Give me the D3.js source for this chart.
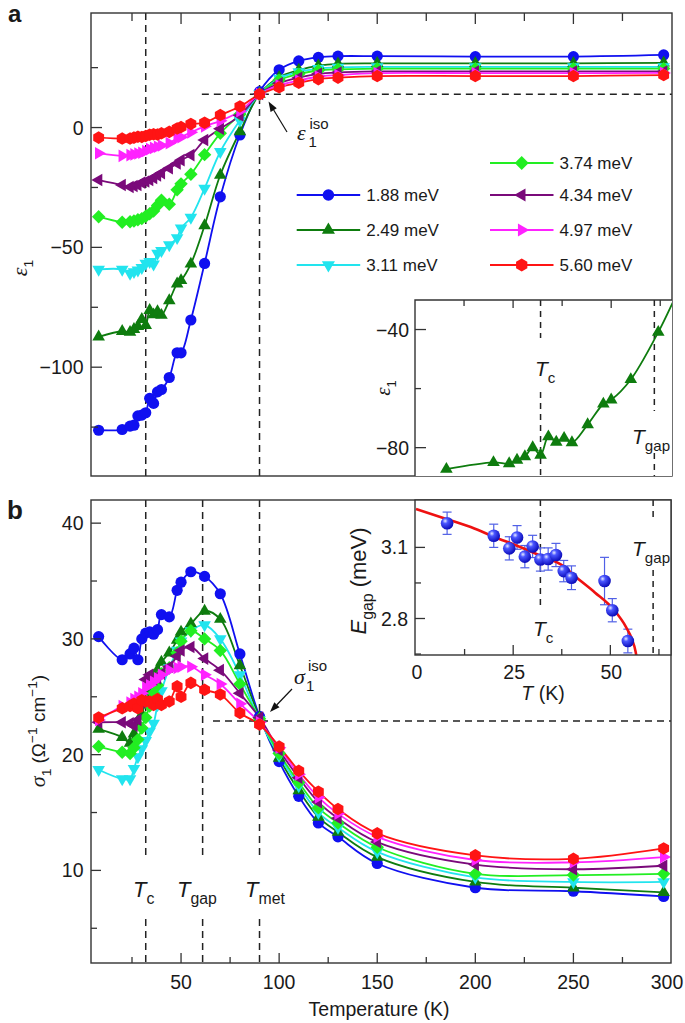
<!DOCTYPE html>
<html><head><meta charset="utf-8">
<script src="https://cdn.jsdelivr.net/npm/d3@7"></script>
<style>
body{margin:0;background:#fff}
svg{display:block}
text{font-family:"Liberation Sans",Arial,sans-serif;fill:#1a1a1a}
</style>
</head><body>
<svg id="c" width="685" height="1023"></svg>
<script>
// ---------------- DATA ----------------
const temps = [8,20,24,26,28,30,32,34,36,38,40,44,48,50,55,62,70,80,90,100,110,120,130,150,200,250,296];
const seriesNames = ["1.88 meV","2.49 meV","3.11 meV","3.74 meV","4.34 meV","4.97 meV","5.60 meV"];
const seriesColors = ["#1010f0","#0e7c0e","#22e4ee","#22ee22","#7a0a7a","#ff22ff","#ff1414"];
const seriesShapes = ["circle","triUp","triDown","diamond","triLeft","triRight","hexagon"];

// panel a: epsilon_1
const eps188 = [-126.3,-126,-124.6,-124.2,-120.3,-120,-119,-113,-115.1,-110.3,-109.3,-104.3,-94,-94,-80.3,-56.7,-28.9,-3.1,15,24.1,27.8,29.3,29.8,29.8,29.6,29.6,30.3];
const eps249 = [-87.3,-85,-85.4,-84.2,-83,-80,-82.5,-76.3,-78.1,-76.8,-78.3,-72.2,-65.2,-63.8,-56.9,-40.9,-19.8,-1.7,14,21,24,25.8,26.6,26.8,26.8,26.8,27];
const eps311 = [-59.2,-59.2,-60.9,-60.2,-59.5,-58.5,-56.7,-56,-57,-52.5,-51.4,-49,-46,-42,-37.5,-25.4,-10.1,3,14,20.5,23.2,24.6,25.1,25.3,25.3,25.3,25.3];
const eps374 = [-37.2,-39.5,-39.3,-39,-38.5,-38,-37,-36,-34.8,-32.5,-30.3,-32,-26,-23.5,-19.5,-11.3,-2.4,5.5,14,19.8,22.3,23.8,24.3,24.6,24.6,24.6,24.6];
const eps434 = [-21.9,-24,-24.8,-24.4,-24,-23,-22.5,-21.9,-21,-20,-19,-17,-15,-13.6,-11.5,-5.2,-0.5,5,14,18.5,20.8,22.4,23,23.4,23.4,23.4,23.4];
const eps497 = [-10.7,-11.8,-11.5,-11.2,-10.8,-10.5,-9.8,-9,-8.5,-8,-7.5,-6.5,-4.5,-4,-2,0.5,2.8,6.8,14,17.6,19.6,21.3,21.9,22.7,22.7,22.7,22.8];
const eps560 = [-4.2,-4.6,-4.6,-4.2,-3.8,-3.9,-3.5,-3,-2.8,-2.9,-2.4,-1.8,-0.4,0.2,1.5,2,5.2,8.8,13.9,16.8,18.7,20.2,20.8,21.5,21.5,21.5,21.9];

// panel b: sigma_1
const sig188 = [30.2,28.2,28.7,29.2,28.2,30.0,30.5,30.6,30.4,30.8,32.1,31.9,34.2,34.9,35.8,35.4,33.9,28.7,23.3,19.4,16.4,14.1,12.9,10.6,8.5,8.2,7.75];
const sig249 = [22.2,21.5,21.0,21.8,22.5,23.5,24.5,25.5,26.8,27.3,28.0,28.8,29.9,30.6,31.3,32.4,31.7,27.7,23.2,19.7,16.9,14.6,13.3,11.15,9.0,8.5,8.1];
const sig311 = [18.7,17.9,17.9,18.8,19.8,20.5,21.2,22.0,22.7,24.3,25.5,27.5,29.0,29.8,30.7,31.2,30.0,26.9,23.0,19.9,17.3,15.0,13.7,11.6,9.4,9.0,9.0];
const sig374 = [20.7,20.2,20.1,20.6,21.3,22.3,23.2,24.2,25.3,26.0,27.0,27.5,28.8,29.8,30.7,30.0,29.0,26.1,23.1,20.1,17.6,15.4,14.1,12.0,9.7,9.6,9.7];
const sig434 = [22.8,22.8,22.7,22.5,23.0,24.5,26.5,26.9,26.5,26.6,27.0,27.6,28.5,29.0,29.3,28.3,27.3,25.3,23.2,20.4,18.0,15.9,14.5,12.45,10.5,10.1,10.4];
const sig497 = [23.0,24.2,24.5,24.8,25.0,25.3,25.8,26.0,26.3,26.6,26.9,27.3,27.5,27.6,27.6,26.9,26.1,24.4,22.8,20.6,18.3,16.3,14.9,12.9,10.9,10.7,11.15];
const sig560 = [23.2,24.0,24.2,24.4,24.0,24.7,24.6,24.6,24.3,24.8,24.3,24.6,25.9,25.0,26.2,25.6,25.2,23.6,22.6,20.7,18.6,16.8,15.3,13.2,11.3,11.0,11.9];

// inset b: gap energy
const gapT   = [8,20,24,26,28,30,32,34,36,38,40,48.5,50.5,54.5];
const gapE   = [3.202,3.149,3.096,3.142,3.061,3.104,3.049,3.051,3.068,3.0,2.972,2.958,2.835,2.705];
const gapErr = [0.047,0.049,0.049,0.05,0.047,0.047,0.049,0.047,0.049,0.045,0.05,0.1,0.049,0.05];
const fitT = [0,8,15,20,26,32,38,41,46,51,54,55.5,56.5,56.9];
const fitE = [3.262,3.219,3.18,3.145,3.107,3.065,3.02,2.977,2.91,2.835,2.765,2.715,2.66,2.62];

// ticks / reference temperatures
const xTicksMajor = [50,100,150,200,250,300];
const xTicksMinor = [25,75,125,175,225,275];
const epsTicksMajor = [-100,-50,0];
const epsTicksMinor = [-125,-75,-25,25];
const sigTicksMajor = [10,20,30,40];
const sigTicksMinor = [5,15,25,35];
const Tc = 32, Tgap = 61, Tmet = 90;
const epsIso = 13.9, sigIso = 22.9;

const epsSeries = [eps188,eps249,eps311,eps374,eps434,eps497,eps560];
const sigSeries = [sig188,sig249,sig311,sig374,sig434,sig497,sig560];

// ---------------- DRAW ----------------
const svg = d3.select("#c");
const FRAME = "#333";

const x = d3.scaleLinear().domain([4.1, 300]).range([91, 671.5]);
const yA = d3.scaleLinear().domain([-145.4, 47.8]).range([476, 13]);
const yB = d3.scaleLinear().domain([2, 42]).range([963, 500]);

function markerPath(shape, r) {
  const pts = (arr) => "M" + arr.map(p => p[0].toFixed(2)+","+p[1].toFixed(2)).join("L") + "Z";
  const s = 0.866;
  switch (shape) {
    case "circle": return d3.symbol(d3.symbolCircle, Math.PI * r * r)();
    case "triUp": { const R = r*1.3; return pts([[0,-R],[R*s,R*0.5],[-R*s,R*0.5]]); }
    case "triDown": { const R = r*1.3; return pts([[0,R],[R*s,-R*0.5],[-R*s,-R*0.5]]); }
    case "triLeft": { const R = r*1.3; return pts([[-R,0],[R*0.5,-R*s],[R*0.5,R*s]]); }
    case "triRight": { const R = r*1.3; return pts([[R,0],[-R*0.5,-R*s],[-R*0.5,R*s]]); }
    case "diamond": { const R = r*1.2; return pts([[0,-R],[R,0],[0,R],[-R,0]]); }
    case "hexagon": { const R = r*1.12; return pts(d3.range(6).map(k => { const a = (-90 + 60*k) * Math.PI/180; return [R*Math.cos(a), R*Math.sin(a)]; })); }
  }
}

function rich(parent, px, py, parts, opt = {}) {
  const size = opt.size || 19;
  const t = parent.append("text")
    .attr("text-anchor", opt.anchor || "start")
    .attr("font-size", size)
    .attr("transform", `translate(${px},${py}) rotate(${opt.rotate || 0})`);
  let cur = 0;
  parts.forEach(p => {
    const s = t.append("tspan").text(p.t);
    const target = p.sub ? size * 0.32 : (p.sup ? -size * 0.42 : 0);
    if (target !== cur) { s.attr("dy", target - cur); cur = target; }
    if (p.sub || p.sup) s.attr("font-size", size * (p.scale || 0.72));
    if (p.italic) s.attr("font-style", "italic");
    if (p.serif) s.attr("font-family", "'Liberation Serif','DejaVu Serif',serif");
    if (p.size) s.attr("font-size", p.size);
  });
  return t;
}

function dashV(g, xp, segs, dash) {
  segs.forEach(([a, b]) => g.append("line").attr("x1", xp).attr("x2", xp).attr("y1", a).attr("y2", b)
    .attr("stroke", "#222").attr("stroke-width", 1.5).attr("stroke-dasharray", dash || "7,5"));
}
function dashH(g, yp, x1, x2, dash) {
  g.append("line").attr("x1", x1).attr("x2", x2).attr("y1", yp).attr("y2", yp)
    .attr("stroke", "#222").attr("stroke-width", 1.5).attr("stroke-dasharray", dash || "7,5");
}
function arrow(g, x1, y1, x2, y2) {
  const ang = Math.atan2(y2 - y1, x2 - x1), L = 10, W = 3.6;
  const bx = x2 - L * Math.cos(ang), by = y2 - L * Math.sin(ang);
  g.append("line").attr("x1", x1).attr("y1", y1).attr("x2", bx).attr("y2", by).attr("stroke", "#111").attr("stroke-width", 1.2);
  const px = -Math.sin(ang) * W, py = Math.cos(ang) * W;
  g.append("path").attr("d", `M${x2},${y2}L${bx+px},${by+py}L${bx-px},${by-py}Z`).attr("fill", "#111");
}

const line = (xs, ys) => d3.line().curve(d3.curveCatmullRom.alpha(0.5)).x(d => xs(d[0])).y(d => ys(d[1]));

function drawSeries(g, ys, seriesArr, rad) {
  seriesArr.forEach((vals, i) => {
    const pts = temps.map((t, k) => [t, vals[k]]);
    g.append("path").attr("d", line(x, ys)(pts)).attr("fill", "none")
      .attr("stroke", seriesColors[i]).attr("stroke-width", 1.8);
  });
  seriesArr.forEach((vals, i) => {
    g.selectAll(null).data(temps.map((t, k) => [t, vals[k]])).enter().append("path")
      .attr("d", markerPath(seriesShapes[i], rad))
      .attr("transform", d => `translate(${x(d[0])},${ys(d[1])})`)
      .attr("fill", seriesColors[i]);
  });
}

// ===== Panel a =====
const gA = svg.append("g");
dashV(gA, x(Tc), [[13, 476]]);
dashV(gA, x(Tmet), [[13, 476]]);
dashH(gA, yA(epsIso), x(Tgap - 0.4), 672);
drawSeries(gA, yA, epsSeries, 5.6);

gA.append("rect").attr("x", 91).attr("y", 13).attr("width", 581).attr("height", 463)
  .attr("fill", "none").attr("stroke", FRAME).attr("stroke-width", 1.4);
xTicksMajor.filter(t => t < 300).forEach(t => gA.append("line").attr("x1", x(t)).attr("x2", x(t)).attr("y1", 13).attr("y2", 24).attr("stroke", FRAME).attr("stroke-width", 1.3));
xTicksMinor.forEach(t => gA.append("line").attr("x1", x(t)).attr("x2", x(t)).attr("y1", 13).attr("y2", 21).attr("stroke", FRAME).attr("stroke-width", 1.3));
epsTicksMajor.forEach(v => {
  gA.append("line").attr("x1", 91).attr("x2", 102).attr("y1", yA(v)).attr("y2", yA(v)).attr("stroke", FRAME).attr("stroke-width", 1.3);
  gA.append("text").attr("x", 83.5).attr("y", yA(v) + 7).attr("text-anchor", "end").attr("font-size", 19.5).text(v < 0 ? "\u2212" + Math.abs(v) : v);
});
epsTicksMinor.forEach(v => gA.append("line").attr("x1", 91).attr("x2", 98).attr("y1", yA(v)).attr("y2", yA(v)).attr("stroke", FRAME).attr("stroke-width", 1.3));
rich(gA, 27, 268, [{t: "\u03B5", italic: true, serif: true, size: 22}, {t: "1", sub: true}], {rotate: -90, anchor: "middle", size: 19});
gA.append("text").attr("x", 8).attr("y", 22).attr("font-size", 24).attr("font-weight", "bold").text("a");

// iso annotation
arrow(gA, 287, 132, 268.5, 101.5);
rich(gA, 297, 140, [{t: "\u03B5", italic: true, serif: true}], {size: 22});
gA.append("text").attr("x", 308.5).attr("y", 147).attr("font-size", 15).text("1");
gA.append("text").attr("x", 309.5).attr("y", 128.5).attr("font-size", 15).text("iso");

// legend
const legendItems = [
  {i: 0, lx: 296.7, ly: 195}, {i: 1, lx: 296.7, ly: 230}, {i: 2, lx: 296.7, ly: 265},
  {i: 3, lx: 490, ly: 163}, {i: 4, lx: 490, ly: 195}, {i: 5, lx: 490, ly: 230}, {i: 6, lx: 490, ly: 265}
];
legendItems.forEach(o => {
  gA.append("line").attr("x1", o.lx).attr("x2", o.lx + 63.5).attr("y1", o.ly).attr("y2", o.ly)
    .attr("stroke", seriesColors[o.i]).attr("stroke-width", 1.8);
  gA.append("path").attr("d", markerPath(seriesShapes[o.i], 5.8)).attr("transform", `translate(${o.lx + 31.7},${o.ly})`).attr("fill", seriesColors[o.i]);
  gA.append("text").attr("x", o.lx + 69.5).attr("y", o.ly + 6).attr("font-size", 17).text(seriesNames[o.i]);
});

// ===== Inset a =====
const xa = d3.scaleLinear().domain([0, 65.5]).range([415, 672]);
const ya = d3.scaleLinear().domain([-89.6, -30]).range([476, 300]);
const gIA = svg.append("g");
gIA.append("rect").attr("x", 415).attr("y", 300).attr("width", 257).attr("height", 176).attr("fill", "#fff");
svg.append("defs").append("clipPath").attr("id", "clipIA").append("rect").attr("x", 415).attr("y", 300).attr("width", 257).attr("height", 176);
dashV(gIA, xa(Tc), [[300, 338], [392, 476]], "6,5");
dashV(gIA, xa(Tgap), [[300, 411], [453, 476]], "6,5");
const insetPts = temps.map((t, k) => [t, eps249[k]]);
gIA.append("path").attr("clip-path", "url(#clipIA)").attr("d", line(xa, ya)(insetPts))
  .attr("fill", "none").attr("stroke", seriesColors[1]).attr("stroke-width", 1.8);
gIA.selectAll(null).data(insetPts.filter(d => d[0] <= 65)).enter().append("path")
  .attr("d", markerPath("triUp", 5.6)).attr("transform", d => `translate(${xa(d[0])},${ya(d[1])})`).attr("fill", seriesColors[1]);
gIA.append("path").attr("d", "M415,476V300H672").attr("fill", "none").attr("stroke", FRAME).attr("stroke-width", 1.4);
[12.5, 25, 37.5, 50, 62.5].forEach(t => gIA.append("line").attr("x1", xa(t)).attr("x2", xa(t)).attr("y1", 300).attr("y2", t % 25 === 0 ? 308 : 306).attr("stroke", FRAME).attr("stroke-width", 1.3));
[-40, -60, -80].forEach(v => {
  gIA.append("line").attr("x1", 415).attr("x2", v === -60 ? 421 : 426).attr("y1", ya(v)).attr("y2", ya(v)).attr("stroke", FRAME).attr("stroke-width", 1.3);
  if (v !== -60) gIA.append("text").attr("x", 409).attr("y", ya(v) + 7).attr("text-anchor", "end").attr("font-size", 19.5).text("\u2212" + Math.abs(v));
});
rich(gIA, 390, 388, [{t: "\u03B5", italic: true, serif: true, size: 21}, {t: "1", sub: true}], {rotate: -90, anchor: "middle", size: 18});
rich(gIA, 535, 376, [{t: "T", italic: true}, {t: "c", sub: true}], {size: 21});
rich(gIA, 632, 444, [{t: "T", italic: true}, {t: "gap", sub: true}], {size: 21});

// ===== Panel b =====
const gB = svg.append("g");
dashV(gB, x(Tc), [[500, 858], [919, 963]]);
dashV(gB, x(Tgap), [[500, 858], [919, 963]]);
dashV(gB, x(Tmet), [[500, 858], [919, 963]]);
dashH(gB, yB(sigIso), 213, 671);
drawSeries(gB, yB, sigSeries, 5.6);
gB.append("rect").attr("x", 91).attr("y", 500).attr("width", 580).attr("height", 463)
  .attr("fill", "none").attr("stroke", FRAME).attr("stroke-width", 1.4);
xTicksMajor.forEach(t => {
  if (t < 300) gB.append("line").attr("x1", x(t)).attr("x2", x(t)).attr("y1", 963).attr("y2", 953).attr("stroke", FRAME).attr("stroke-width", 1.3);
  gB.append("text").attr("x", t === 300 ? 667 : x(t)).attr("y", 989).attr("text-anchor", "middle").attr("font-size", 19.5).text(t);
});
xTicksMinor.forEach(t => gB.append("line").attr("x1", x(t)).attr("x2", x(t)).attr("y1", 963).attr("y2", 957).attr("stroke", FRAME).attr("stroke-width", 1.3));
sigTicksMajor.forEach(v => {
  gB.append("line").attr("x1", 91).attr("x2", 101).attr("y1", yB(v)).attr("y2", yB(v)).attr("stroke", FRAME).attr("stroke-width", 1.3);
  gB.append("text").attr("x", 83.5).attr("y", yB(v) + 7).attr("text-anchor", "end").attr("font-size", 19.5).text(v);
});
sigTicksMinor.forEach(v => gB.append("line").attr("x1", 91).attr("x2", 97).attr("y1", yB(v)).attr("y2", yB(v)).attr("stroke", FRAME).attr("stroke-width", 1.3));
gB.append("text").attr("x", 379).attr("y", 1016).attr("text-anchor", "middle").attr("font-size", 19.5).text("Temperature (K)");
rich(gB, 45, 731, [{t: "\u03C3", italic: true, serif: true, size: 22}, {t: "1", sub: true}, {t: " (\u03A9"}, {t: "\u22121", sup: true}, {t: " cm"}, {t: "\u22121", sup: true}, {t: ")"}], {rotate: -90, anchor: "middle", size: 19});
gB.append("text").attr("x", 7).attr("y", 519).attr("font-size", 26).attr("font-weight", "bold").text("b");
rich(gB, 133, 897, [{t: "T", italic: true}, {t: "c", sub: true}], {size: 22});
rich(gB, 177, 897, [{t: "T", italic: true}, {t: "gap", sub: true}], {size: 22});
rich(gB, 245, 897, [{t: "T", italic: true}, {t: "met", sub: true}], {size: 22});
arrow(gB, 292, 689, 270, 712);
rich(gB, 294, 684, [{t: "\u03C3", italic: true, serif: true}], {size: 22});
gB.append("text").attr("x", 306).attr("y", 691).attr("font-size", 15).text("1");
gB.append("text").attr("x", 308).attr("y", 671).attr("font-size", 15).text("iso");

// ===== Inset b =====
const xb = d3.scaleLinear().domain([0, 65.6]).range([416, 671]);
const yb = d3.scaleLinear().domain([2.646, 3.3]).range([655, 500]);
const gIB = svg.append("g");
gIB.append("rect").attr("x", 415).attr("y", 500).attr("width", 256).attr("height", 155).attr("fill", "#fff");
svg.select("defs").append("clipPath").attr("id", "clipIB").append("rect").attr("x", 415).attr("y", 500).attr("width", 256).attr("height", 155);
const grad = svg.select("defs").append("radialGradient").attr("id", "sph").attr("cx", "35%").attr("cy", "32%").attr("r", "70%");
grad.append("stop").attr("offset", "0%").attr("stop-color", "#e8ecff");
grad.append("stop").attr("offset", "30%").attr("stop-color", "#4a56ff");
grad.append("stop").attr("offset", "100%").attr("stop-color", "#0a0ab8");
dashV(gIB, xb(Tc), [[500, 606]], "6,5");
dashV(gIB, xb(Tgap), [[500, 517], [570, 655]], "6,5");
gapT.forEach((t, k) => {
  const cx = xb(t), y1 = yb(gapE[k] + gapErr[k]), y2 = yb(gapE[k] - gapErr[k]);
  gIB.append("line").attr("x1", cx).attr("x2", cx).attr("y1", y1).attr("y2", y2).attr("stroke", "#5060e6").attr("stroke-width", 1.2);
  [y1, y2].forEach(yy => gIB.append("line").attr("x1", cx - 4.5).attr("x2", cx + 4.5).attr("y1", yy).attr("y2", yy).attr("stroke", "#5060e6").attr("stroke-width", 1.2));
});
const fitLine = d3.line().curve(d3.curveMonotoneX).x(d => xb(d[0])).y(d => yb(d[1]));
gIB.append("path").attr("clip-path", "url(#clipIB)").attr("d", fitLine(fitT.map((t, k) => [t, fitE[k]])))
  .attr("fill", "none").attr("stroke", "#ee1111").attr("stroke-width", 2.6);
gIB.selectAll(null).data(gapT.map((t, k) => [t, gapE[k]])).enter().append("circle")
  .attr("cx", d => xb(d[0])).attr("cy", d => yb(d[1])).attr("r", 6.3).attr("fill", "url(#sph)");
gIB.append("rect").attr("x", 415).attr("y", 500).attr("width", 256).attr("height", 155).attr("fill", "none").attr("stroke", FRAME).attr("stroke-width", 1.4);
[[3.1, 10], [2.95, 6], [2.8, 10], [2.65, 6]].forEach(([v, L]) => gIB.append("line").attr("x1", 415).attr("x2", 415 + L).attr("y1", yb(v)).attr("y2", yb(v)).attr("stroke", FRAME).attr("stroke-width", 1.3));
[[12.5, 6], [25, 10], [37.5, 6], [50, 10], [62.5, 6]].forEach(([t, L]) => gIB.append("line").attr("x1", xb(t)).attr("x2", xb(t)).attr("y1", 655).attr("y2", 655 - L).attr("stroke", FRAME).attr("stroke-width", 1.3));
[3.1, 2.8].forEach(v => gIB.append("text").attr("x", 408).attr("y", yb(v) + 7).attr("text-anchor", "end").attr("font-size", 19.5).text(v.toFixed(1)));
[0, 25, 50].forEach(t => gIB.append("text").attr("x", xb(t) + 1).attr("y", 679).attr("text-anchor", "middle").attr("font-size", 19.5).text(t));
rich(gIB, 543, 700, [{t: "T", italic: true}, {t: " (K)"}], {anchor: "middle", size: 19.5});
rich(gIB, 366, 581, [{t: "E", italic: true}, {t: "gap", sub: true}, {t: " (meV)"}], {rotate: -90, anchor: "middle", size: 22});
rich(gIB, 533, 636, [{t: "T", italic: true}, {t: "c", sub: true}], {size: 21});
rich(gIB, 632, 556, [{t: "T", italic: true}, {t: "gap", sub: true}], {size: 21});
</script>
</body></html>
